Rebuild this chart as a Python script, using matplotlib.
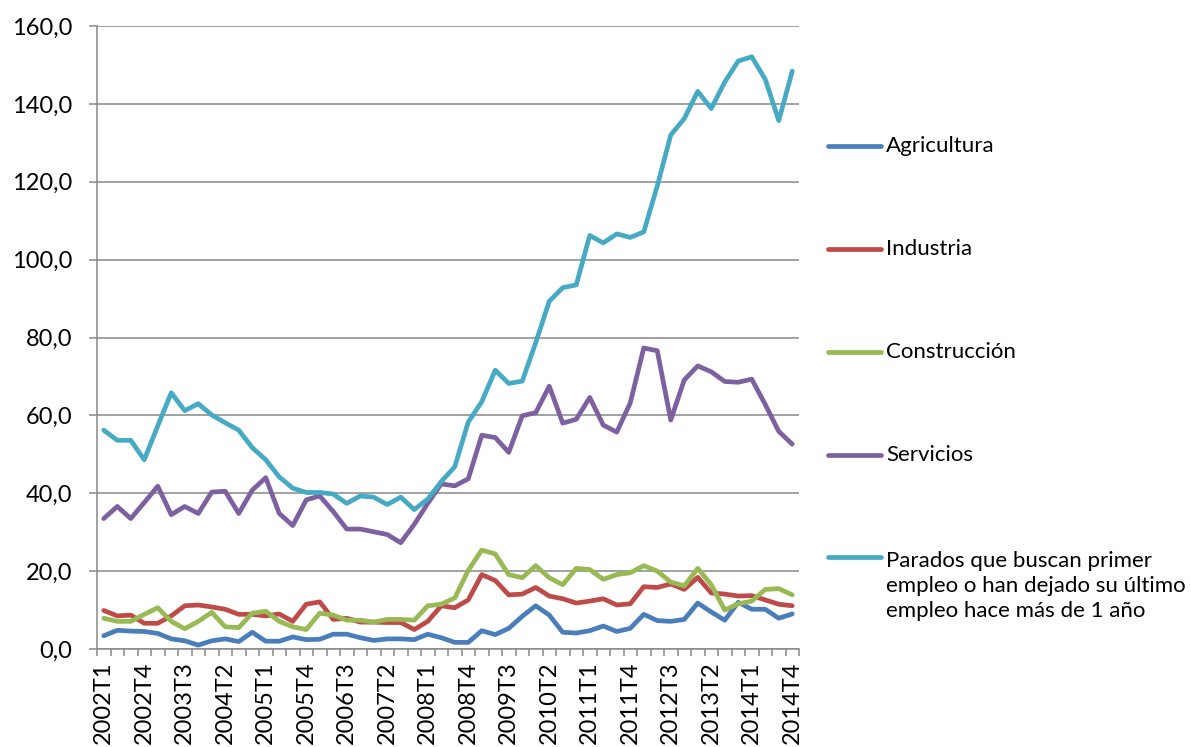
import matplotlib
matplotlib.use("Agg")
import matplotlib.pyplot as plt
import numpy as np
from matplotlib.lines import Line2D
from matplotlib.ticker import FuncFormatter

plt.rcParams['font.family'] = ['Lato', 'DejaVu Sans']

# trimestres 2002T1 .. 2014T4
trimestres = [f"{a}T{t}" for a in range(2002, 2015) for t in range(1, 5)]

agricultura = [3.4, 4.8, 4.6, 4.5, 4.0, 2.6, 2.1, 1.0, 2.1, 2.6, 1.9, 4.3, 2.0, 2.0, 3.1, 2.4, 2.5,
               3.8, 3.8, 2.9, 2.2, 2.6, 2.6, 2.4, 3.8, 2.9, 1.7, 1.7, 4.7, 3.7, 5.3, 8.4, 11.1, 8.7,
               4.3, 4.1, 4.7, 5.9, 4.5, 5.3, 8.9, 7.3, 7.1, 7.6, 11.8, 9.5, 7.4, 12.0, 10.2, 10.2, 7.9, 9.0]
industria = [9.9, 8.5, 8.7, 6.6, 6.6, 8.5, 11.1, 11.3, 10.8, 10.2, 8.9, 8.9, 8.5, 9.0, 7.1, 11.5, 12.1,
             7.6, 7.9, 6.9, 6.9, 6.8, 6.8, 5.0, 7.1, 11.1, 10.6, 12.6, 19.1, 17.6, 13.9, 14.1, 15.8, 13.6,
             12.9, 11.8, 12.3, 12.9, 11.3, 11.6, 16.0, 15.8, 16.7, 15.3, 18.4, 14.4, 14.1, 13.6, 13.7, 12.6, 11.5, 11.1]
construccion = [7.9, 7.1, 7.1, 8.9, 10.6, 7.1, 5.2, 7.1, 9.4, 5.7, 5.5, 9.2, 9.7, 7.1, 5.7, 5.0, 9.2,
                8.7, 7.4, 7.4, 6.9, 7.6, 7.6, 7.4, 11.1, 11.5, 13.1, 20.2, 25.4, 24.4, 19.1, 18.3, 21.4, 18.3,
                16.5, 20.7, 20.4, 17.9, 19.1, 19.6, 21.4, 20.0, 17.2, 16.2, 20.7, 16.5, 10.0, 11.6, 12.3, 15.3, 15.5, 13.9]
servicios = [33.5, 36.6, 33.5, 37.6, 41.8, 34.5, 36.6, 34.8, 40.3, 40.5, 34.8, 40.8, 44.0, 34.8, 31.7, 38.3, 39.3,
             35.3, 30.8, 30.8, 30.1, 29.4, 27.3, 32.0, 37.4, 42.4, 41.9, 43.7, 54.9, 54.3, 50.5, 59.9, 60.7, 67.5,
             58.0, 59.0, 64.6, 57.5, 55.7, 63.2, 77.3, 76.6, 58.8, 69.1, 72.7, 71.2, 68.7, 68.5, 69.3, 62.8, 55.9, 52.6]
parados = [56.2, 53.6, 53.6, 48.6, 57.3, 65.8, 61.2, 63.0, 60.1, 58.1, 56.2, 51.7, 48.6, 44.2, 41.3, 40.2, 40.2,
           39.8, 37.4, 39.3, 39.0, 37.1, 39.0, 35.8, 38.5, 43.0, 46.8, 58.3, 63.5, 71.6, 68.2, 68.8, 78.7, 89.3,
           92.8, 93.5, 106.2, 104.3, 106.6, 105.7, 107.1, 118.9, 132.0, 136.2, 143.2, 138.8, 145.6, 151.0, 152.1, 146.3, 135.7, 148.4]

nombres = ['Agricultura', 'Industria', 'Construcción', 'Servicios',
           'Parados que buscan primer\nempleo o han dejado su último\nempleo hace más de 1 año']
series = [agricultura, industria, construccion, servicios, parados]
colores = ['#4A7EBB', '#BE4B48', '#98B954', '#7D60A0', '#46AAC5']

W, H = 1191, 747
fig = plt.figure(figsize=(W / 100, H / 100), dpi=100)
ax = fig.add_axes([97 / W, 1 - 649 / H, (799 - 97) / W, (649 - 26) / H])

x = np.arange(len(trimestres))
for vals, c in zip(series, colores):
    ax.plot(x, vals, color=c, lw=3.4, solid_joinstyle='round', solid_capstyle='round', clip_on=False)

ax.set_xlim(-0.5, len(trimestres) - 0.5)
ax.set_ylim(0, 160)
ax.set_yticks(np.arange(0, 161, 20))
ax.yaxis.set_major_formatter(FuncFormatter(lambda v, p: f"{v:.1f}".replace('.', ',')))
ax.grid(axis='y', color='#878787', lw=1.1)
ax.set_axisbelow(True)

for s in ['top', 'right']:
    ax.spines[s].set_visible(False)
for s in ['left', 'bottom']:
    ax.spines[s].set_color('#878787')
    ax.spines[s].set_linewidth(1.1)

ax.set_xticks(x[::3])
ax.set_xticklabels(trimestres[::3], rotation=90, fontsize=17)
ax.set_xticks(np.arange(-0.5, len(trimestres), 1), minor=True)
ax.tick_params(axis='x', which='major', length=0, pad=9)
ax.tick_params(axis='x', which='minor', length=5, width=1.1, color='#878787')
ax.tick_params(axis='y', length=6, width=1.1, color='#878787', pad=12, labelsize=17)

# leyenda a la derecha
ys = [146, 249, 352, 455, 557]
for nombre, c, yy in zip(nombres, colores, ys):
    fig.add_artist(Line2D([828 / W, 881 / W], [1 - yy / H] * 2, transform=fig.transFigure,
                          color=c, lw=3.4, solid_capstyle='round'))
    ty = yy + 29 if '\n' in nombre else yy
    fig.text(886 / W, 1 - ty / H, nombre, fontsize=16, va='center', ha='left', linespacing=1.3)

fig.savefig('out.png', dpi=100)
